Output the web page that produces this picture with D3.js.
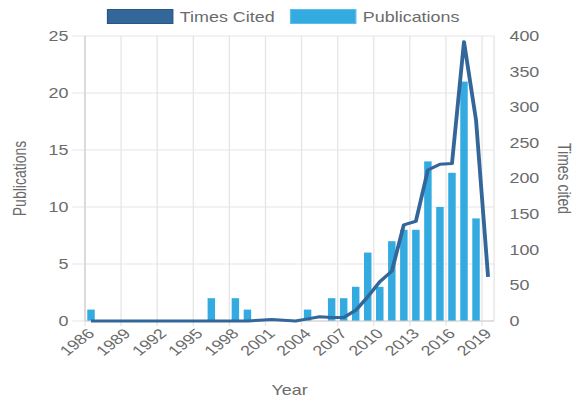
<!DOCTYPE html>
<html>
<head>
<meta charset="utf-8">
<script src="https://cdn.jsdelivr.net/npm/d3@7"></script>
<style>
  html, body { margin: 0; padding: 0; background: #fff; }
  text { font-family: "Liberation Sans", Arial, sans-serif; fill: #6b6b6b; }
</style>
</head>
<body>
<div id="chart"></div>
<script>
// Publications and citations per year
const years = ['1986','1987','1988','1989','1990','1991','1992','1993','1994','1995',
  '1996','1997','1998','1999','2000','2001','2002','2003','2004','2005',
  '2006','2007','2008','2009','2010','2011','2012','2013','2014','2015',
  '2016','2017','2018','2019'];
const publications = [1,0,0,0,0,0,0,0,0,0, 2,0,2,1,0,0,0,0,1,0,
  2,2,3,6,3,7,8,8,14,10, 13,21,9,0];
const timesCited = [0,0,0,0,0,0,0,0,0,0, 0,0,0,0,1,2,1,0,3,6,
  5,5,15,34,55,70,135,140,212,220, 221,392,282,62];
const yearTicks = ['1986','1989','1992','1995','1998','2001','2004','2007','2010','2013','2016','2019'];
const pubTicks = [0, 5, 10, 15, 20, 25];
const citedTicks = [0, 50, 100, 150, 200, 250, 300, 350, 400];

// drawn in a narrower box and stretched to 576 wide, like the source image
const W = 450, H = 400;
const margin = { top: 36, right: 64, bottom: 79, left: 66.4 };

const svg = d3.select('#chart')
  .append('svg')
  .attr('width', 576)
  .attr('height', 400)
  .attr('viewBox', `0 0 ${W} ${H}`)
  .attr('preserveAspectRatio', 'none');

const x = d3.scaleBand()
  .domain(years)
  .range([margin.left, W - margin.right]);

const yPub = d3.scaleLinear().domain([0, 25]).range([H - margin.bottom, margin.top]);
const yCited = d3.scaleLinear().domain([0, 400]).range([H - margin.bottom, margin.top]);

// horizontal grid
svg.append('g')
  .selectAll('line')
  .data(pubTicks)
  .enter().append('line')
  .attr('x1', margin.left - 10)
  .attr('x2', W - margin.right)
  .attr('y1', d => yPub(d))
  .attr('y2', d => yPub(d))
  .style('stroke', '#e5e5e5');

// vertical grid at category boundaries for labelled years
svg.append('g')
  .selectAll('line')
  .data(yearTicks)
  .enter().append('line')
  .attr('x1', d => x(d))
  .attr('x2', d => x(d))
  .attr('y1', margin.top)
  .attr('y2', H - margin.bottom + 5)
  .style('stroke', '#e5e5e5');

// bars
const barW = x.bandwidth() * 0.62;
svg.append('g')
  .selectAll('rect')
  .data(publications)
  .enter().append('rect')
  .attr('x', (d, i) => x(years[i]) + (x.bandwidth() - barW) / 2)
  .attr('width', barW)
  .attr('y', d => yPub(d))
  .attr('height', d => yPub(0) - yPub(d))
  .style('fill', '#33aae0');

// axis lines
svg.append('line')
  .attr('x1', margin.left).attr('x2', margin.left)
  .attr('y1', margin.top).attr('y2', H - margin.bottom)
  .style('stroke', '#cfcfcf');
svg.append('line')
  .attr('x1', W - margin.right).attr('x2', W - margin.right)
  .attr('y1', margin.top).attr('y2', H - margin.bottom)
  .style('stroke', '#e5e5e5');
svg.append('line')
  .attr('x1', margin.left).attr('x2', W - margin.right)
  .attr('y1', H - margin.bottom).attr('y2', H - margin.bottom)
  .style('stroke', '#cfcfcf');

// line
const line = d3.line()
  .x((d, i) => x(years[i]) + x.bandwidth() / 2)
  .y(d => yCited(d));

svg.append('path')
  .datum(timesCited)
  .attr('d', line)
  .style('fill', 'none')
  .style('stroke', '#336699')
  .style('stroke-width', 3)
  .style('stroke-linejoin', 'round');

// left tick labels
svg.append('g')
  .selectAll('text')
  .data(pubTicks)
  .enter().append('text')
  .attr('x', margin.left - 13)
  .attr('y', d => yPub(d))
  .attr('dy', '0.35em')
  .attr('text-anchor', 'end')
  .style('font-size', '14px')
  .text(d => d);

// right tick labels
svg.append('g')
  .selectAll('text')
  .data(citedTicks)
  .enter().append('text')
  .attr('x', W - margin.right + 12)
  .attr('y', d => yCited(d))
  .attr('dy', '0.35em')
  .attr('text-anchor', 'start')
  .style('font-size', '14px')
  .text(d => d);

// x tick labels
svg.append('g')
  .selectAll('text')
  .data(yearTicks)
  .enter().append('text')
  .attr('transform', d => `translate(${x(d) + x.bandwidth() / 2},${H - margin.bottom + 10}) rotate(-45)`)
  .attr('text-anchor', 'end')
  .attr('dy', '0.35em')
  .style('font-size', '14px')
  .text(d => d);

// axis titles
svg.append('text')
  .attr('transform', `translate(15.6,${(margin.top + H - margin.bottom) / 2}) rotate(-90)`)
  .attr('text-anchor', 'middle')
  .attr('dy', '0.35em')
  .style('font-size', '14px')
  .text('Publications');

svg.append('text')
  .attr('transform', `translate(441,${(margin.top + H - margin.bottom) / 2}) rotate(90)`)
  .attr('text-anchor', 'middle')
  .attr('dy', '0.35em')
  .style('font-size', '14px')
  .text('Times cited');

svg.append('text')
  .attr('x', (margin.left + W - margin.right) / 2)
  .attr('y', 395)
  .attr('text-anchor', 'middle')
  .style('font-size', '14px')
  .text('Year');

// legend
const legend = [
  { name: 'Times Cited', color: '#336699', border: '#2a5580', x: 84 },
  { name: 'Publications', color: '#33aae0', border: '#5bbde8', x: 227 }
];
const lg = svg.append('g')
  .selectAll('g')
  .data(legend)
  .enter().append('g');
lg.append('rect')
  .attr('x', d => d.x)
  .attr('y', 9.5)
  .attr('width', 51)
  .attr('height', 14)
  .style('fill', d => d.color)
  .style('stroke', d => d.border)
  .style('stroke-width', 1);
lg.append('text')
  .attr('x', d => d.x + 56.5)
  .attr('y', 22)
  .style('font-size', '14px')
  .text(d => d.name);
</script>
</body>
</html>
